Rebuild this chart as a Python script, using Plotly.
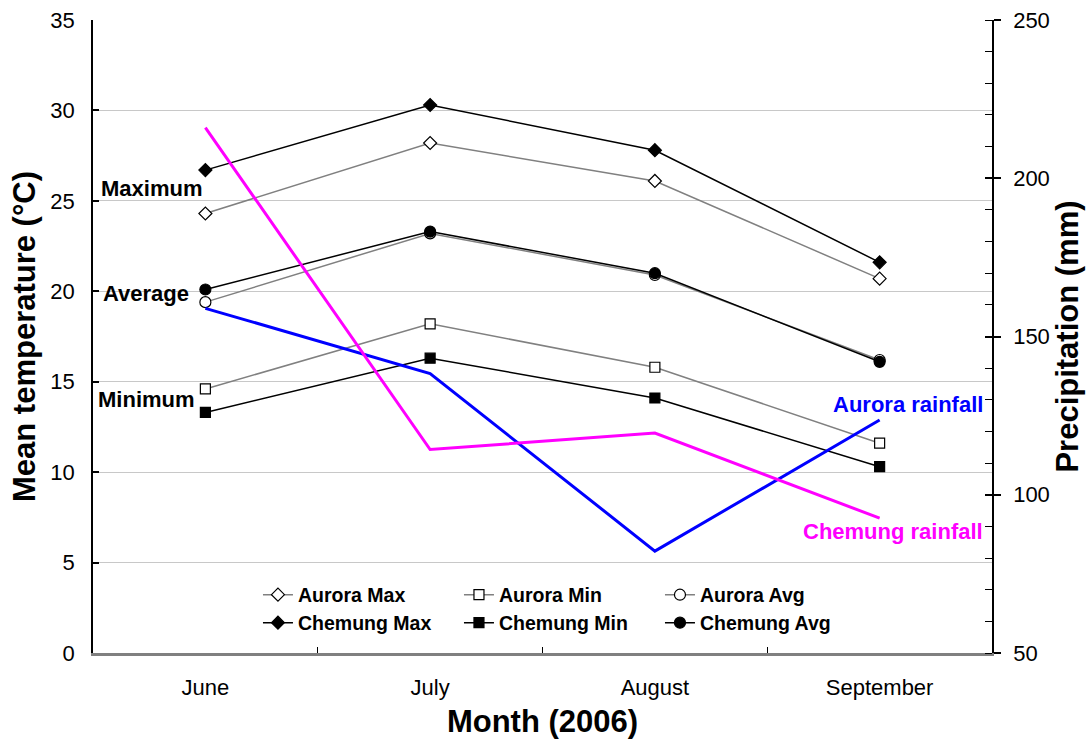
import plotly.graph_objects as go

# Monthly data, summer 2006
months = ["June", "July", "August", "September"]

aurora_max = [24.3, 28.2, 26.1, 20.7]
aurora_min = [14.6, 18.2, 15.8, 11.6]
aurora_avg = [19.4, 23.2, 20.9, 16.2]

chemung_max = [26.7, 30.3, 27.8, 21.6]
chemung_min = [13.3, 16.3, 14.1, 10.3]
chemung_avg = [20.1, 23.3, 21.0, 16.1]

aurora_rain = [158.9, 138.3, 82.2, 123.6]
chemung_rain = [216.0, 114.3, 119.5, 92.6]

FONT = "Liberation Sans, Arial, sans-serif"
GRAY = "#808080"

fig = go.Figure()

def temp_trace(name, y, symbol, filled, legend):
    line_color = "black" if filled else GRAY
    return go.Scatter(
        x=months, y=y, name=name, mode="lines+markers",
        line=dict(color=line_color, width=1.5),
        marker=dict(symbol=symbol, size=11 if symbol == "circle" else 10,
                    color="black" if filled else "white",
                    line=dict(color="black", width=1.2)),
        legend=legend, yaxis="y",
    )

fig.add_trace(temp_trace("Aurora Max", aurora_max, "diamond", False, "legend"))
fig.add_trace(temp_trace("Aurora Min", aurora_min, "square", False, "legend"))
fig.add_trace(temp_trace("Aurora Avg", aurora_avg, "circle", False, "legend"))
fig.add_trace(temp_trace("Chemung Max", chemung_max, "diamond", True, "legend2"))
fig.add_trace(temp_trace("Chemung Min", chemung_min, "square", True, "legend2"))
fig.add_trace(temp_trace("Chemung Avg", chemung_avg, "circle", True, "legend2"))

# Rainfall on the right-hand axis (two axes share the same 50-250 scale)
fig.add_trace(go.Scatter(x=months, y=aurora_rain, mode="lines", showlegend=False,
                         line=dict(color="#0000FF", width=3), yaxis="y2"))
fig.add_trace(go.Scatter(x=months, y=chemung_rain, mode="lines", showlegend=False,
                         line=dict(color="#FF00FF", width=3), yaxis="y3"))

legend_common = dict(
    orientation="h", xref="paper", yref="paper", xanchor="left", yanchor="middle",
    bgcolor="rgba(0,0,0,0)", borderwidth=0,
    font=dict(family=FONT, size=19.5, color="black", weight="bold"),
    entrywidth=156, entrywidthmode="pixels", itemwidth=30,
)

fig.update_layout(
    width=1092, height=744,
    margin=dict(l=93, r=100, t=20, b=91),
    paper_bgcolor="white", plot_bgcolor="white",
    font=dict(family=FONT, size=22, color="black"),
    legend=dict(x=0.1835, y=0.0916, **legend_common),
    legend2=dict(x=0.1835, y=0.0474, **legend_common),
    xaxis=dict(
        type="category", range=[-0.5, 3.5], automargin=False,
        showline=True, linecolor=GRAY, linewidth=2.5,
        ticks="inside", tickson="boundaries", ticklen=6, tickcolor="black", tickwidth=1,
        showgrid=False, ticklabelstandoff=13,
        tickfont=dict(family=FONT, size=22),
        title=dict(text="<b>Month (2006)</b>", font=dict(family=FONT, size=31), standoff=12),
    ),
    yaxis=dict(
        range=[0, 35], dtick=5, tick0=0, automargin=False,
        showline=True, linecolor="black", linewidth=1.5,
        ticks="inside", ticklen=6, tickcolor="black", tickwidth=1.5,
        showgrid=True, gridcolor="#C8C8C8", gridwidth=1, zeroline=False,
        ticklabelstandoff=12,
        tickfont=dict(family=FONT, size=22),
        title=dict(text="<b>Mean temperature (°C)</b>", font=dict(family=FONT, size=31), standoff=6),
    ),
    yaxis2=dict(
        range=[50, 250], dtick=50, tick0=50, overlaying="y", side="right", anchor="x",
        automargin=False,
        showline=True, linecolor="black", linewidth=1.5,
        ticks="outside", ticklen=7, tickcolor="black", tickwidth=1.5,
        minor=dict(dtick=10, ticks="inside", ticklen=7, tickcolor="black", tickwidth=1.2, showgrid=False),
        showgrid=False, zeroline=False, ticklabelstandoff=8,
        tickfont=dict(family=FONT, size=22),
        title=dict(text="<b>Precipitation (mm)</b>", font=dict(family=FONT, size=31), standoff=4),
    ),
    yaxis3=dict(
        range=[50, 250], dtick=50, tick0=50, overlaying="y", side="right", anchor="x",
        automargin=False,
        showline=False, ticks="inside", ticklen=7, tickcolor="black", tickwidth=1.5,
        showticklabels=False, showgrid=False, zeroline=False,
    ),
)

label_font = dict(family=FONT, size=22, color="black")
for text, yv, shift in [("Maximum", 25.7, -1), ("Average", 19.9, -14), ("Minimum", 14.0, -8)]:
    fig.add_annotation(x="June", y=yv, xref="x", yref="y", text=f"<b>{text}</b>",
                       showarrow=False, xanchor="right", yanchor="middle",
                       xshift=shift, font=label_font)

fig.add_annotation(x=0.9922, y=128.4, xref="paper", yref="y2", text="<b>Aurora rainfall</b>",
                   showarrow=False, xanchor="right", yanchor="middle",
                   font=dict(family=FONT, size=22, color="#0000FF"))
fig.add_annotation(x=0.9922, y=88.5, xref="paper", yref="y2", text="<b>Chemung rainfall</b>",
                   showarrow=False, xanchor="right", yanchor="middle",
                   font=dict(family=FONT, size=22, color="#FF00FF"))

fig.write_html("out.html")
